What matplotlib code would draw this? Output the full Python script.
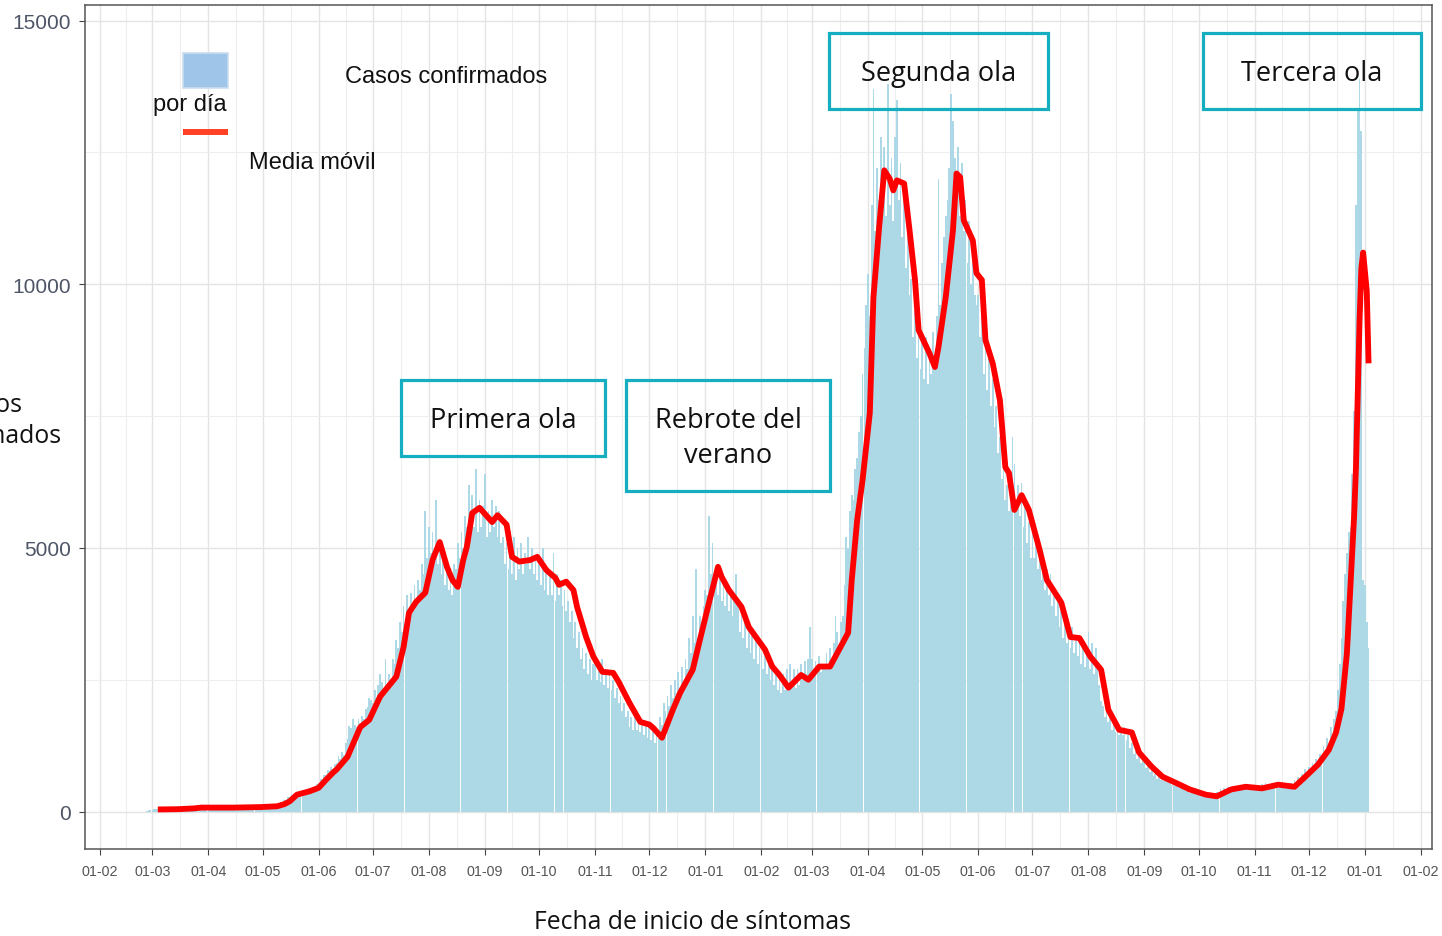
import matplotlib
matplotlib.use("Agg")
import matplotlib.pyplot as plt
import matplotlib.dates as mdates
from matplotlib.patches import Rectangle
from matplotlib.lines import Line2D
import pandas as pd

# ---------------- data: confirmed cases per day (by month) ----------------
casos_2020_02 = [20, 25, 30]  # from 27 Feb
casos_2020_03 = [35, 40, 45, 40, 35, 45, 50, 40, 45, 50, 55, 45, 40, 50, 55, 50, 45, 55, 60, 55,
                 70, 75, 80, 70, 65, 75, 80, 70, 75, 80, 70]
casos_2020_04 = [75, 80, 70, 65, 80, 85, 75, 70, 80, 85, 75, 70, 80, 90, 85, 75, 80, 85, 90, 80,
                 75, 85, 90, 95, 85, 80, 90, 95, 100, 90]
casos_2020_05 = [95, 110, 100, 90, 105, 115, 100, 120, 135, 145, 175, 180, 210, 225, 270, 285, 330, 320,
                 350, 340, 370, 360, 395, 380, 400, 390, 430, 440, 470, 470, 530]
casos_2020_06 = [540, 620, 610, 700, 690, 790, 760, 850, 800, 900, 920, 1050, 990, 1120, 1080, 1300,
                 1380, 1620, 1580, 1760, 1640, 1600, 1750, 1680, 1820, 1760, 1950, 1980, 2150, 2120]
casos_2020_07 = [2050, 2300, 2150, 2400, 2600, 2450, 2300, 2900, 2350, 2600, 2480, 2900, 2800, 3250,
                 3100, 3600, 3400, 3900, 3650, 4100, 3750, 4150, 3850, 4300, 3950, 4400, 4200, 4700,
                 4500, 5700, 4800]
casos_2020_08 = [5400, 4900, 5300, 4800, 5900, 4700, 5100, 4500, 4800, 4300, 4600, 4200, 4500, 4100,
                 4700, 4600, 5100, 4800, 5300, 5000, 5600, 5400, 6200, 5500, 6000, 5400, 6500, 5300,
                 5900, 5400, 5800]
casos_2020_09 = [6400, 5200, 5700, 5300, 5900, 5400, 5800, 5200, 5700, 5100, 5200, 4700, 5100, 4600,
                 5000, 4500, 5200, 4400, 5000, 4600, 5100, 4500, 4900, 4700, 5200, 4600, 5000, 4500,
                 4800, 4400]
casos_2020_10 = [4800, 4300, 5000, 4200, 4600, 4100, 4500, 4100, 4900, 4000, 4500, 4100, 4400, 3900,
                 4200, 3800, 4000, 3600, 3800, 3300, 3600, 3100, 3400, 2900, 3100, 2700, 3000, 2600,
                 2900, 2500, 2800]
casos_2020_11 = [2900, 2500, 2800, 2450, 2900, 2400, 2700, 2350, 2650, 2300, 2500, 2150, 2350, 2050,
                 2200, 1900, 2050, 1800, 1900, 1600, 1800, 1550, 1850, 1550, 1750, 1500, 1700, 1450,
                 1650, 1400]
casos_2020_12 = [1600, 1350, 1500, 1300, 1600, 1500, 1800, 1650, 2050, 1900, 2200, 2000, 2400, 2150,
                 2500, 2250, 2650, 2350, 2750, 2450, 2900, 2700, 3300, 3000, 3700, 3200, 4600, 3300,
                 3700, 3400, 3900]
casos_2021_01 = [4200, 4100, 5600, 4500, 5100, 4300, 4600, 4100, 4500, 4000, 4400, 3900, 4300, 3800,
                 4200, 3700, 4000, 4500, 3900, 3400, 3700, 3300, 3600, 3100, 3500, 3000, 3400, 2900,
                 3300, 2800, 3100]
casos_2021_02 = [3000, 2700, 2950, 2600, 2850, 2500, 2800, 2400, 2650, 2300, 2500, 2250, 2600, 2300,
                 2700, 2400, 2800, 2400, 2700, 2350, 2700, 2400, 2800, 2500, 2850, 2600, 2900, 3500]
casos_2021_03 = [2900, 2600, 2850, 2700, 2950, 2650, 2800, 2700, 3000, 2800, 3100, 2900, 3200, 3700,
                 3400, 3100, 3600, 3700, 4300, 5200, 5000, 5700, 6000, 5900, 6500, 6700, 7200, 7500,
                 8300, 8800, 9600]
casos_2021_04 = [10200, 9400, 11500, 13700, 11000, 12200, 11600, 12800, 11400, 12600, 11300, 13800,
                 11500, 12400, 11200, 12800, 13500, 11600, 12300, 10900, 11800, 10300, 11000, 9800,
                 10100, 9000, 9500, 8600, 9200, 8400]
casos_2021_05 = [8900, 8200, 9000, 8100, 8700, 8300, 9100, 8600, 9400, 12000, 9600, 10400, 10900,
                 11300, 11600, 12200, 13600, 13100, 12400, 11800, 12600, 11300, 12300, 11000, 11600,
                 10400, 11200, 10000, 10700, 9800, 9600]
casos_2021_06 = [9800, 9000, 9400, 8300, 8900, 8000, 8600, 7700, 8200, 7300, 7700, 6800, 7100, 6300,
                 6600, 5900, 6200, 5700, 6100, 7100, 6600, 5800, 6200, 5600, 6230, 5400, 5800, 5100,
                 5500, 4800]
casos_2021_07 = [5300, 4800, 5100, 4600, 4900, 4400, 4700, 4200, 4600, 4100, 4500, 3900, 4200, 3700,
                 4000, 3500, 3800, 3300, 3600, 3200, 3500, 3100, 3500, 3000, 3300, 2950, 3200, 2800,
                 3100, 2750, 3000]
casos_2021_08 = [3400, 2700, 3200, 2600, 3100, 2700, 2400, 2100, 2000, 1800, 1950, 1700, 1800, 1550,
                 1700, 1500, 1650, 1450, 1600, 1450, 1600, 1350, 1450, 1200, 1300, 1100, 1150, 1000,
                 1100, 920, 1000]
casos_2021_09 = [950, 820, 880, 750, 800, 680, 720, 620, 700, 600, 650, 580, 640, 560, 590, 510, 560,
                 480, 510, 440, 480, 420, 440, 390, 420, 360, 400, 350, 380, 330]
casos_2021_10 = [350, 300, 330, 280, 310, 270, 320, 290, 350, 310, 380, 340, 420, 380, 440, 400, 460,
                 420, 470, 430, 480, 440, 490, 440, 480, 430, 470, 420, 460, 420, 470]
casos_2021_11 = [480, 440, 500, 450, 520, 470, 540, 480, 530, 470, 520, 460, 510, 450, 500, 440, 490,
                 440, 500, 460, 540, 500, 590, 540, 650, 600, 720, 660, 800, 740]
casos_2021_12 = [850, 780, 920, 840, 1000, 930, 1100, 1020, 1250, 1150, 1400, 1300, 1600, 1450, 1750,
                 1900, 2300, 2800, 3300, 4000, 4500, 4900, 5300, 5400, 6400, 7600, 11500, 13300,
                 13900, 12900, 4400]
casos_2022_01 = [4300, 3600, 3100]

meses = [("2020-02-27", casos_2020_02), ("2020-03-01", casos_2020_03), ("2020-04-01", casos_2020_04),
         ("2020-05-01", casos_2020_05), ("2020-06-01", casos_2020_06), ("2020-07-01", casos_2020_07),
         ("2020-08-01", casos_2020_08), ("2020-09-01", casos_2020_09), ("2020-10-01", casos_2020_10),
         ("2020-11-01", casos_2020_11), ("2020-12-01", casos_2020_12), ("2021-01-01", casos_2021_01),
         ("2021-02-01", casos_2021_02), ("2021-03-01", casos_2021_03), ("2021-04-01", casos_2021_04),
         ("2021-05-01", casos_2021_05), ("2021-06-01", casos_2021_06), ("2021-07-01", casos_2021_07),
         ("2021-08-01", casos_2021_08), ("2021-09-01", casos_2021_09), ("2021-10-01", casos_2021_10),
         ("2021-11-01", casos_2021_11), ("2021-12-01", casos_2021_12), ("2022-01-01", casos_2022_01)]

# ---------------- data: moving average ----------------
media_fechas = [
    "2020-03-04", "2020-03-15", "2020-03-24", "2020-03-28", "2020-04-15", "2020-04-30", "2020-05-09",
    "2020-05-13", "2020-05-16", "2020-05-20", "2020-05-27", "2020-06-01", "2020-06-05", "2020-06-09",
    "2020-06-11", "2020-06-17", "2020-06-18", "2020-06-24", "2020-06-29", "2020-07-05", "2020-07-14",
    "2020-07-18", "2020-07-21", "2020-07-25", "2020-07-30", "2020-08-03", "2020-08-07", "2020-08-11",
    "2020-08-14", "2020-08-17", "2020-08-20", "2020-08-22", "2020-08-25", "2020-08-29", "2020-09-05",
    "2020-09-08", "2020-09-13", "2020-09-16", "2020-09-20", "2020-09-26", "2020-09-30", "2020-10-05",
    "2020-10-10", "2020-10-12", "2020-10-16", "2020-10-20", "2020-10-22", "2020-10-27", "2020-10-31",
    "2020-11-05", "2020-11-11", "2020-11-14", "2020-11-20", "2020-11-26", "2020-12-01", "2020-12-03",
    "2020-12-08", "2020-12-14", "2020-12-18", "2020-12-25", "2020-12-29", "2021-01-03", "2021-01-08",
    "2021-01-10", "2021-01-14", "2021-01-21", "2021-01-25", "2021-01-30", "2021-02-03", "2021-02-07",
    "2021-02-11", "2021-02-16", "2021-02-23", "2021-02-27", "2021-03-05", "2021-03-11", "2021-03-16",
    "2021-03-21", "2021-03-23", "2021-03-26", "2021-03-29", "2021-04-02", "2021-04-04", "2021-04-07",
    "2021-04-10", "2021-04-13", "2021-04-15", "2021-04-17", "2021-04-21", "2021-04-24", "2021-04-27",
    "2021-04-29", "2021-05-05", "2021-05-08", "2021-05-10", "2021-05-14", "2021-05-18", "2021-05-20",
    "2021-05-22", "2021-05-24", "2021-05-29", "2021-05-31", "2021-06-03", "2021-06-05", "2021-06-09",
    "2021-06-13", "2021-06-16", "2021-06-18", "2021-06-21", "2021-06-25", "2021-06-29", "2021-07-05",
    "2021-07-09", "2021-07-17", "2021-07-22", "2021-07-27", "2021-08-02", "2021-08-08", "2021-08-12",
    "2021-08-18", "2021-08-25", "2021-08-29", "2021-09-05", "2021-09-11", "2021-09-18", "2021-09-26",
    "2021-10-05", "2021-10-11", "2021-10-19", "2021-10-27", "2021-11-05", "2021-11-14", "2021-11-23",
    "2021-11-29", "2021-12-06", "2021-12-12", "2021-12-16", "2021-12-19", "2021-12-22", "2021-12-24",
    "2021-12-26", "2021-12-27", "2021-12-28", "2021-12-29", "2021-12-30", "2021-12-31", "2022-01-01",
    "2022-01-02", "2022-01-03"]
media_valores = [
    40, 45, 60, 75, 75, 85, 100,
    140, 195, 320, 385, 450, 600, 740,
    800, 1040, 1120, 1600, 1740, 2180, 2560,
    3120, 3770, 3980, 4150, 4770, 5110, 4640,
    4390, 4260, 4770, 5020, 5660, 5760, 5490,
    5620, 5440, 4830, 4740, 4770, 4830, 4580,
    4430, 4300, 4360, 4200, 3880, 3310, 2940,
    2650, 2630, 2460, 2060, 1700, 1650, 1590,
    1400, 1930, 2250, 2690, 3260, 3960, 4640,
    4450, 4200, 3880, 3500, 3260, 3070, 2750,
    2590, 2350, 2590, 2500, 2750, 2750, 3070,
    3390, 4390, 5530, 6290, 7560, 9750, 11020,
    12160, 12000, 11780, 11970, 11910, 11020, 10080,
    9130, 8690, 8430, 8810, 9750, 11020, 12100,
    12030, 11210, 10830, 10210, 10080, 8940, 8500,
    7800, 6530, 6420, 5720, 6000, 5720, 4960,
    4390, 3960, 3310, 3290, 2940, 2690, 1930,
    1550, 1500, 1120, 850, 660, 550, 420,
    320, 290, 420, 470, 440, 510, 470,
    660, 890, 1170, 1500, 1950, 3000, 4300,
    5600, 6500, 7860, 9300, 10300, 10600, 10230,
    9870, 8500]

ticks_y = [0, 5000, 10000, 15000]
minor_y = [2500, 7500, 12500]

# ---------------- figure ----------------
W, H = 1442, 937
fig = plt.figure(figsize=(W / 100, H / 100), dpi=100)
fig.patch.set_facecolor("white")


def fx(x):
    return x / W


def fy(y):
    return 1 - y / H


ax = fig.add_axes([fx(85), fy(850), (1432 - 85) / W, (850 - 6) / H])

serie = pd.concat([pd.Series(v, index=pd.date_range(s, periods=len(v), freq="D")) for s, v in meses])
ax.bar(serie.index, serie.values, width=0.977, color="#ADD8E6", linewidth=0, zorder=2,
       antialiased=False)

media = pd.Series(media_valores, index=pd.to_datetime(media_fechas))
ax.plot(media.index, media.values, color="#FF0000", lw=4.2, zorder=3,
        solid_capstyle="butt", solid_joinstyle="round")

# axes limits and ticks
x0 = mdates.date2num(pd.Timestamp("2020-02-01"))
x1 = mdates.date2num(pd.Timestamp("2022-02-01"))
ax.set_xlim(x0 - 8.3, x1 + 6.1)
ax.set_ylim(-710, 15295)

majors = pd.date_range("2020-02-01", "2022-02-01", freq="MS")
ax.set_xticks(mdates.date2num(majors))
ax.set_xticklabels([d.strftime("%d-%m") for d in majors])
mnum = mdates.date2num(majors)
ax.set_xticks((mnum[:-1] + mnum[1:]) / 2, minor=True)
ax.set_yticks(ticks_y)
ax.set_yticklabels([str(v) for v in ticks_y])
ax.set_yticks(minor_y, minor=True)

ax.set_axisbelow(True)
ax.grid(which="major", color="#e4e4e4", lw=1.0)
ax.grid(which="minor", color="#eeeeee", lw=0.8)

for sp in ax.spines.values():
    sp.set_color("#555555")
    sp.set_linewidth(1.1)

ax.tick_params(axis="both", which="minor", length=0)
ax.tick_params(axis="y", which="major", length=4, width=0.8, color="#444444", pad=6.0,
               labelsize=15, labelcolor="#4d5566")
ax.tick_params(axis="x", which="major", length=4, width=0.8, color="#444444", pad=6.5,
               labelsize=10.3, labelcolor="#555555")
for lab in ax.get_xticklabels() + ax.get_yticklabels():
    lab.set_family("Liberation Sans")

# axis titles
ax.set_xlabel("Fecha de inicio de síntomas", family="Open Sans", fontsize=17.8, color="#111111")
ax.xaxis.set_label_coords((692 - 85) / 1347, (850 - 923) / 844)
ax.xaxis.label.set_verticalalignment("center")
ax.set_ylabel("Casos\nconfirmados", family="Open Sans", fontsize=17.8, color="#111111",
              rotation=0, ha="center", va="center", linespacing=1.35)
ax.yaxis.set_label_coords((-11 - 85) / 1347, (850 - 421) / 844)

# legend (drawn manually like the reference)
fig.add_artist(Rectangle((fx(183), fy(89)), fx(228) - fx(183), fy(54) - fy(89),
                         transform=fig.transFigure, facecolor="#9FC5E8", edgecolor="#C9DDF1", lw=1.2))
fig.add_artist(Line2D([fx(183), fx(228)], [fy(133), fy(133)], transform=fig.transFigure,
                      color="#FF4226", lw=4.3, solid_capstyle="butt"))
fig.text(fx(345), fy(77), "Casos confirmados", family="Liberation Sans", fontsize=17,
         ha="left", va="center", color="#111111")
fig.text(fx(190), fy(105), "por día", family="Liberation Sans", fontsize=17,
         ha="center", va="center", color="#111111")
fig.text(fx(249), fy(163), "Media móvil", family="Liberation Sans", fontsize=17,
         ha="left", va="center", color="#111111")

# annotation boxes
cajas = [((401, 381, 605, 457), "Primera ola"),
         ((626, 381, 830, 492), "Rebrote del\nverano"),
         ((829, 34, 1048, 110), "Segunda ola"),
         ((1203, 34, 1421, 110), "Tercera ola")]
for (l, t, r, b), txt in cajas:
    fig.add_artist(Rectangle((fx(l), fy(b)), fx(r) - fx(l), fy(t) - fy(b),
                             transform=fig.transFigure, fill=False, edgecolor="#15AEC1", lw=2.3,
                             zorder=5))
    fig.text(fx((l + r) / 2), fy((t + b) / 2 + 2), txt, family="Open Sans", fontsize=19.5,
             ha="center", va="center", multialignment="center", color="#111111",
             linespacing=1.38, zorder=6)

fig.savefig("out.png", dpi=100)
